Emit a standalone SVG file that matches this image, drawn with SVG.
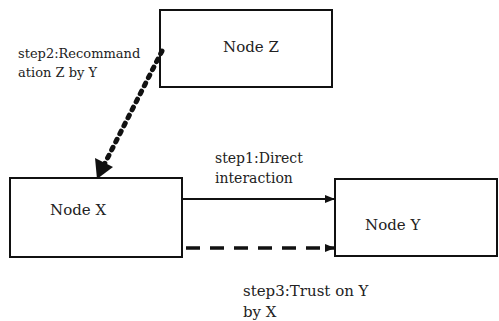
<svg xmlns="http://www.w3.org/2000/svg" width="499" height="321" viewBox="0 0 499 321">
<style>
.n{fill:#fff;stroke:#111;stroke-width:2}
text{font-family:'DejaVu Serif','Liberation Serif',serif;font-size:13px;fill:#222}
.nl{font-size:15px}
.s1{font-size:14px}
.s3{font-size:15px}
</style>
<defs>
<marker id="ah" markerWidth="10" markerHeight="8" refX="10" refY="4" orient="auto" markerUnits="userSpaceOnUse"><path d="M0,0L10,4L0,8Z" fill="#111"/></marker>
</defs>
<rect width="499" height="321" fill="#fff"/>
<g id="nodeZ"><rect class="n" x="160" y="10" width="172" height="77"/><text class="nl" x="223" y="52">Node Z</text></g>
<g id="nodeX"><rect class="n" x="10" y="178" width="172" height="79"/><text class="nl" x="50" y="215">Node X</text></g>
<g id="nodeY"><rect class="n" x="335" y="179" width="162" height="77"/><text class="nl" x="365" y="230">Node Y</text></g>
<g id="connectors">
<line x1="182" y1="199" x2="335" y2="199" stroke="#111" stroke-width="2" marker-end="url(#ah)"/>
<line x1="186" y1="248" x2="335" y2="248" stroke="#111" stroke-width="3.5" stroke-dasharray="14,10" marker-end="url(#ah)"/>
<line x1="162" y1="51" x2="104" y2="165" stroke="#111" stroke-width="5" stroke-linecap="round" stroke-dasharray="3,6"/>
<path d="M97,179 L95,158 L113,167 Z" fill="#111"/>
</g>
<text x="18" y="58">step2:Recommand</text>
<text x="18" y="77">ation Z by Y</text>
<text class="s1" x="215" y="163">step1:Direct</text>
<text class="s1" x="215" y="183">interaction</text>
<text class="s3" x="243" y="296">step3:Trust on Y</text>
<text class="s3" x="243" y="317">by X</text>
</svg>
